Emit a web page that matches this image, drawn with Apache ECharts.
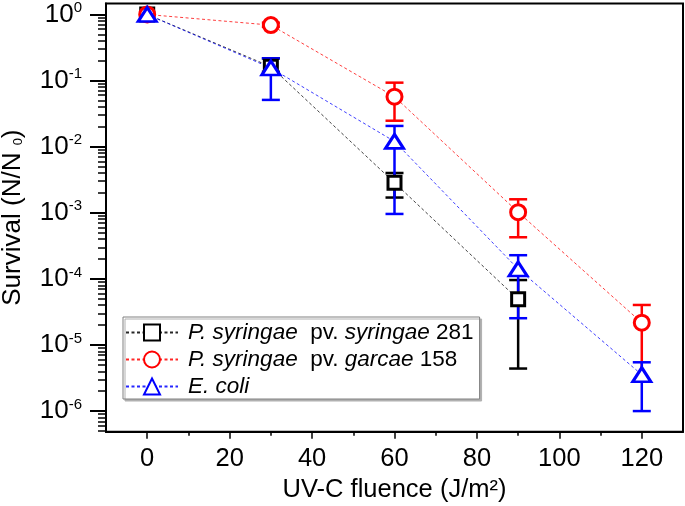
<!DOCTYPE html>
<html>
<head>
<meta charset="utf-8">
<script src="https://cdn.jsdelivr.net/npm/echarts@6/dist/echarts.min.js"></script>
<style>
html,body{margin:0;padding:0;background:#fff;}
#wrap{position:relative;width:685px;height:506px;}
#chart,#ticks{position:absolute;left:0;top:0;width:685px;height:506px;}
#ticks{pointer-events:none;}
</style>
</head>
<body>
<div id="wrap"><div id="chart"></div><div id="ticks"></div></div>
<script>
// ---- data ----
const seriesNames = ['P. syringae pv. syringae 281', 'P. syringae pv. garcae 158', 'E. coli'];

const pssFluence = [0, 30, 60, 90];
const pssSurvival = [1, 0.162, 0.00285, 4.9e-5];
const pssLow      = [1, 0.136, 0.0017, 4.4e-6];
const pssHigh     = [1, 0.217, 0.0040, 9.6e-5];

const psgFluence = [0, 30, 60, 90, 120];
const psgSurvival = [1, 0.69, 0.057, 0.00102, 2.17e-5];
const psgLow      = [1, 0.65, 0.0247, 4.26e-4, 2.85e-6];
const psgHigh     = [1, 0.75, 0.093, 0.0016, 4.03e-5];

const ecoFluence = [0, 30, 60, 90, 120];
const ecoSurvival = [1, 0.155, 0.012, 1.41e-4, 3.55e-6];
const ecoLow      = [1, 0.051, 9.6e-4, 2.54e-5, 1.0e-6];
const ecoHigh     = [1, 0.217, 0.0206, 2.28e-4, 5.47e-6];

const xTicks = [0, 20, 40, 60, 80, 100, 120];
const xMinorTicks = [10, 30, 50, 70, 90, 110];
const yDecades = [-6, -5, -4, -3, -2, -1, 0];   // exponents of the major ticks (10^n)

// ---- helpers ----
const FONT = '"Liberation Sans", Arial, Helvetica, sans-serif';
const lg = v => Math.log10(v);
const xMin = -10, xMax = 130;
const yMin = -6.312, yMax = 0.166;
const yMinor = [];
for (let d = -7; d <= 0; d++) {
  for (let k = 2; k <= 9; k++) {
    const v = d + Math.log10(k);
    if (v > yMin && v < yMax) yMinor.push(v);
  }
}
const GRID = {left: 106, right: 2, top: 3.5, bottom: 74.3, outerBoundsMode: 'none'};

function lineSeries(name, xs, ys, color, symbol, size) {
  return {
    name: name,
    type: 'line',
    data: xs.map((x, i) => [x, lg(ys[i])]),
    symbol: symbol,
    symbolSize: size,
    z: 3,
    lineStyle: {color: color, width: 0.9, type: [3, 2.5], opacity: 0.85},
    itemStyle: {color: '#fff', borderColor: color, borderWidth: 3, opacity: 1},
    emphasis: {disabled: true}
  };
}

function errSeries(name, xs, lows, highs, color) {
  return {
    name: name,
    type: 'custom',
    z: 1,
    silent: true,
    encode: {x: 0, y: [1, 2]},
    data: xs.map((x, i) => [x, lg(lows[i]), lg(highs[i])]),
    renderItem: function (params, api) {
      const x = api.value(0);
      const pLo = api.coord([x, api.value(1)]);
      const pHi = api.coord([x, api.value(2)]);
      if (Math.abs(pLo[1] - pHi[1]) < 1) return {type: 'group', children: []};
      const w = 9;
      const st = {stroke: color, lineWidth: 2.5};
      return {
        type: 'group',
        children: [
          {type: 'line', shape: {x1: pHi[0], y1: pHi[1], x2: pLo[0], y2: pLo[1]}, style: st},
          {type: 'line', shape: {x1: pHi[0] - w, y1: pHi[1], x2: pHi[0] + w, y2: pHi[1]}, style: st},
          {type: 'line', shape: {x1: pLo[0] - w, y1: pLo[1], x2: pLo[0] + w, y2: pLo[1]}, style: st}
        ]
      };
    }
  };
}

const legendLabels = {};
legendLabels[seriesNames[0]] = '{i|P. syringae}  pv. {i|syringae} 281';
legendLabels[seriesNames[1]] = '{i|P. syringae}  pv. {i|garcae} 158';
legendLabels[seriesNames[2]] = '{i|E. coli}';

// ---- main chart ----
const chart = echarts.init(document.getElementById('chart'), null, {renderer: 'canvas'});
chart.setOption({
  animation: false,
  grid: Object.assign({show: true, borderColor: '#000', borderWidth: 2}, GRID),
  legend: {
    data: seriesNames,
    orient: 'vertical',
    left: 123, top: 317,
    itemWidth: 52, itemHeight: 20, itemGap: 4,
    padding: [4, 6, 1, 2],
    backgroundColor: '#fff',
    borderColor: '#808080', borderWidth: 1,
    shadowColor: '#b0b0b0', shadowBlur: 0, shadowOffsetX: 2, shadowOffsetY: 2,
    selectedMode: false,
    formatter: name => legendLabels[name],
    textStyle: {
      fontFamily: FONT, fontSize: 22.5, color: '#000', lineHeight: 20, padding: [0, 0, 0, 5],
      rich: {i: {fontFamily: FONT, fontSize: 22.5, fontStyle: 'italic', color: '#000', lineHeight: 20}}
    }
  },
  xAxis: {
    type: 'value', min: xMin, max: xMax, position: 'bottom',
    name: 'UV-C fluence (J/m²)', nameLocation: 'middle', nameGap: 44,
    nameTextStyle: {fontFamily: FONT, fontSize: 25.5, color: '#000'},
    axisLine: {show: true, onZero: false, lineStyle: {color: '#000', width: 2}},
    axisTick: {show: false},
    axisLabel: {show: true, customValues: xTicks, margin: 14, fontFamily: FONT, fontSize: 25.5, color: '#000'},
    splitLine: {show: false}
  },
  yAxis: {
    type: 'value', min: yMin, max: yMax, position: 'left',
    name: 'Survival (N/N {sub|0})', nameLocation: 'middle', nameGap: 80,
    nameTextStyle: {
      fontFamily: FONT, fontSize: 26, color: '#000',
      rich: {sub: {fontFamily: FONT, fontSize: 13, color: '#000', padding: [10, 0, 0, 0]}}
    },
    axisLine: {show: true, onZero: false, lineStyle: {color: '#000', width: 2}},
    axisTick: {show: false},
    axisLabel: {
      show: true, customValues: yDecades, margin: 24,
      formatter: v => '{b|10}{s|' + Math.round(v) + '}',
      rich: {
        b: {fontFamily: FONT, fontSize: 26, color: '#000', lineHeight: 28},
        s: {fontFamily: FONT, fontSize: 15, color: '#000', verticalAlign: 'top', lineHeight: 15}
      }
    },
    splitLine: {show: false}
  },
  series: [
    errSeries('err0', pssFluence, pssLow, pssHigh, '#000'),
    errSeries('err1', psgFluence, psgLow, psgHigh, '#ff0000'),
    errSeries('err2', ecoFluence, ecoLow, ecoHigh, '#0000ff'),
    lineSeries(seriesNames[0], pssFluence, pssSurvival, '#000', 'rect', 13),
    lineSeries(seriesNames[1], psgFluence, psgSurvival, '#ff0000', 'circle', 15),
    lineSeries(seriesNames[2], ecoFluence, ecoSurvival, '#0000ff', 'triangle', [18, 14])
  ]
});

// ---- tick-mark layer: same grid and axis ranges, only the ticks are drawn ----
const tickChart = echarts.init(document.getElementById('ticks'), null, {renderer: 'canvas'});
function tickAxis(min, max, pos, values, len, width) {
  return {
    type: 'value', min: min, max: max, position: pos,
    axisLine: {show: false, onZero: false},
    axisTick: {show: true, customValues: values, length: len, lineStyle: {color: '#000', width: width}},
    axisLabel: {show: false},
    splitLine: {show: false}
  };
}
tickChart.setOption({
  animation: false,
  grid: GRID,
  xAxis: [
    tickAxis(xMin, xMax, 'bottom', xTicks, 7, 1.5),
    tickAxis(xMin, xMax, 'bottom', xMinorTicks, 4, 1.5)
  ],
  yAxis: [
    tickAxis(yMin, yMax, 'left', yDecades, 16, 2),
    tickAxis(yMin, yMax, 'left', yMinor, 8, 1.5)
  ],
  series: [{type: 'line', data: [], silent: true}]
});
</script>
</body>
</html>
